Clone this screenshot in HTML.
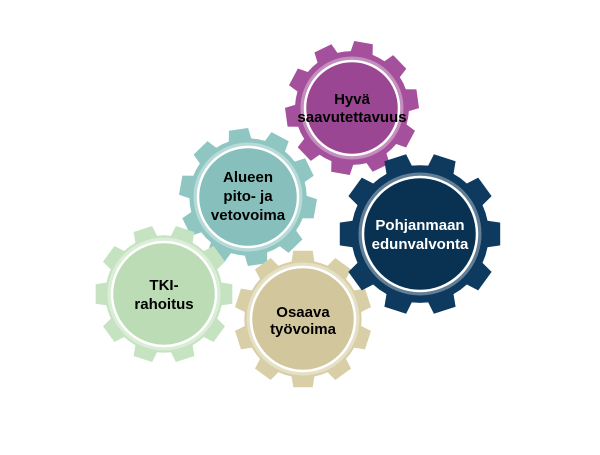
<!DOCTYPE html>
<html><head><meta charset="utf-8"><style>
body{margin:0;background:#fff;width:600px;height:450px;overflow:hidden}
svg text{font-family:"Liberation Sans",sans-serif;font-weight:bold;font-size:15px;text-anchor:middle}
</style></head><body>
<svg id="s" width="600" height="450" viewBox="0 0 600 450">
<g id="g"></g>
<text x="352" y="104">Hyvä</text><text x="352" y="122">saavutettavuus</text>
<text x="248" y="182">Alueen</text><text x="248" y="201">pito- ja</text><text x="248" y="220">vetovoima</text>
<text x="420" y="230" fill="#fff">Pohjanmaan</text><text x="420" y="249" fill="#fff">edunvalvonta</text>
<text x="164" y="290">TKI-</text><text x="164" y="309">rahoitus</text>
<text x="303" y="317">Osaava</text><text x="303" y="334">työvoima</text>
</svg>
<script>
var gears=[
[352,108,67,47,'#a4509c','#9a4692',-8],
[248,197,69,50,'#8fc6c2','#86bfbb',10],
[164,294,69,52,'#c6e3c1','#bcdcb6',0],
[303,319,69,52,'#d8cfa6','#d2c79c',18],
[420,234,81,57,'#0d3a5e','#093252',0]];
var ns='http://www.w3.org/2000/svg',G=document.getElementById('g');
function el(t,a){var e=document.createElementNS(ns,t);for(var k in a)e.setAttribute(k,a[k]);G.appendChild(e);return e;}
gears.forEach(function(g){
 var cx=g[0],cy=g[1],R=g[2],r=g[3],n=10,rb=R*0.85,rot=g[6]*Math.PI/180,d='';
 for(var i=0;i<n;i++){
  var a=rot+i*2*Math.PI/n,s=Math.PI/n;
  var pts=[[rb,a-s*0.62],[R,a-s*0.45],[R,a+s*0.45],[rb,a+s*0.62],[rb,a+s]];
  pts.forEach(function(p,j){var x=cx+p[0]*Math.cos(p[1]),y=cy+p[0]*Math.sin(p[1]);d+=(i==0&&j==0?'M':'L')+x.toFixed(1)+','+y.toFixed(1);});
 }
 el('path',{d:d+'Z',fill:g[4]});
 el('circle',{cx:cx,cy:cy,r:r+2,fill:'none',stroke:'#fff',opacity:0.35,'stroke-width':5});
 el('circle',{cx:cx,cy:cy,r:r,fill:g[5],stroke:'#fff','stroke-width':2.5});
});
</script>
</body></html>
